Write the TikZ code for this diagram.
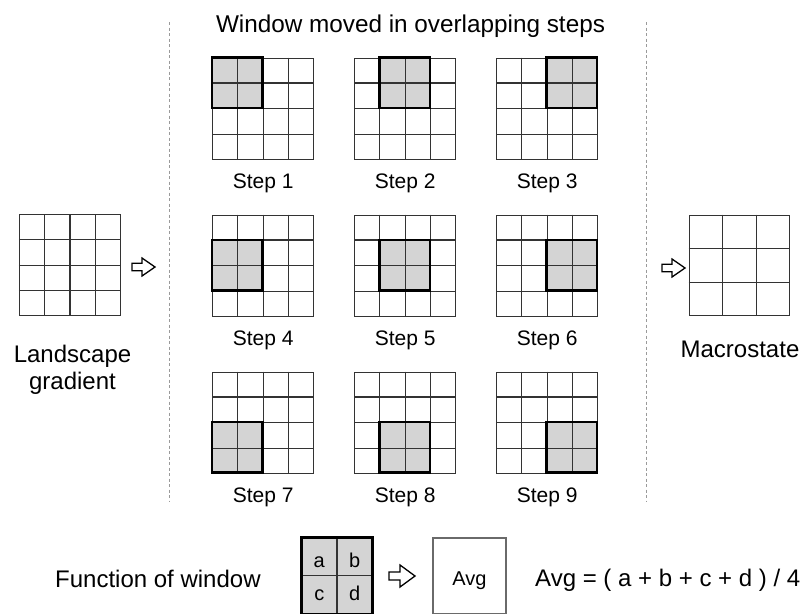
\documentclass[tikz,border=0pt]{standalone}
\usepackage{fontspec}
\setmainfont{Liberation Sans}
\usetikzlibrary{calc}
\definecolor{gridc}{HTML}{333333}
\definecolor{winc}{HTML}{D4D4D4}
\definecolor{dashc}{HTML}{9A9A9A}
\definecolor{boxc}{HTML}{6A6A6A}
\begin{document}
\begin{tikzpicture}[x=1pt,y=-1pt,
  gridline/.style={draw=gridc,line width=1.3pt},
  gridbox4/.style={rectangle,draw=gridc,line width=1.3pt,minimum width=101pt,minimum height=101pt,inner sep=0pt},
  gridbox3/.style={rectangle,draw=gridc,line width=1.3pt,minimum width=100.5pt,minimum height=100.5pt,inner sep=0pt},
  winborder/.style={draw=black,line width=2.4pt},
  lbl/.style={inner sep=0pt,anchor=base,font=\fontsize{24}{28}\selectfont},
  steplbl/.style={inner sep=0pt,anchor=base,font=\fontsize{21}{25}\selectfont},
  letter/.style={inner sep=0pt,anchor=base,font=\fontsize{20}{24}\selectfont},
  sep/.style={draw=dashc,line width=0.9pt,dash pattern=on 3pt off 2.5pt},
  arrowline/.style={draw=black,line width=1.3pt,fill=white,line join=miter},
  harrow/.pic={\draw[arrowline] (0,-3.7) -- (10,-3.7) -- (10,-9) -- (23,0) -- (10,9) -- (10,3.7) -- (0,3.7) -- cycle;},
  harrowbig/.pic={\draw[arrowline] (0,-4) -- (11,-4) -- (11,-11) -- (26,0) -- (11,11) -- (11,4) -- (0,4) -- cycle;}]
\clip (0,0) rectangle (800,613);
\fill[white] (0,0) rectangle (800,613);

% title and separators
\node[lbl,font=\fontsize{24.3}{28}\selectfont] (title) at (410.5,32) {Window moved in overlapping steps};
\coordinate (sepLt) at (169,22);
\coordinate (sepLb) at (169,502);
\coordinate (sepRt) at (646,22);
\coordinate (sepRb) at (646,502);
\draw[sep] (sepLt) -- (sepLb);
\draw[sep] (sepRt) -- (sepRb);

% landscape gradient
\node[gridbox4] (land) at (70,265.2) {};
\foreach \k in {1,2,3} {
  \draw[gridline] ($(land.north west)!\k/4!(land.north east)$) -- ($(land.south west)!\k/4!(land.south east)$);
  \draw[gridline] ($(land.north west)!\k/4!(land.south west)$) -- ($(land.north east)!\k/4!(land.south east)$);
}
\node[lbl] (landA) at (72.5,362) {Landscape};
\node[lbl] (landB) at (72.5,389) {gradient};
\pic at (132,267) {harrow};

% steps
\foreach \n/\c/\r in {1/0/0,2/1/0,3/2/0,4/0/1,5/1/1,6/2/1,7/0/2,8/1/2,9/2/2} {
  \node[gridbox4] (g\n) at ({263.2+142*\c},{108.7+157*\r}) {};
  \fill[winc] ($(g\n.north west)+(\c*25.25,\r*25.25)$) rectangle ++(50.5,50.5);
  \foreach \k in {1,2,3} {
    \draw[gridline] ($(g\n.north west)!\k/4!(g\n.north east)$) -- ($(g\n.south west)!\k/4!(g\n.south east)$);
    \draw[gridline] ($(g\n.north west)!\k/4!(g\n.south west)$) -- ($(g\n.north east)!\k/4!(g\n.south east)$);
  }
  \draw[winborder] ($(g\n.north west)+(\c*25.25,\r*25.25)$) rectangle ++(50.5,50.5);
  \node[steplbl] (t\n) at ($(g\n.south)+(0,29)$) {Step \n};
}

% macrostate
\pic at (662,268) {harrow};
\node[gridbox3] (macro) at (739.5,265.5) {};
\foreach \k in {1,2} {
  \draw[gridline] ($(macro.north west)!\k/3!(macro.north east)$) -- ($(macro.south west)!\k/3!(macro.south east)$);
  \draw[gridline] ($(macro.north west)!\k/3!(macro.south west)$) -- ($(macro.north east)!\k/3!(macro.south east)$);
}
\node[lbl] (macroT) at (740,357) {Macrostate};

% function of window
\node[lbl,anchor=base west] (func) at (55,587) {Function of window};
\node[rectangle,fill=winc,minimum width=70.6pt,minimum height=76pt,inner sep=0pt] (win) at (337,575.7) {};
\draw[gridline] (win.north) -- (win.south);
\draw[gridline] (win.west) -- (win.east);
\draw[winborder] (win.north west) rectangle (win.south east);
\node[letter] (la) at (319.3,567) {a};
\node[letter] (lb) at (354.6,567) {b};
\node[letter] (lc) at (319.3,600) {c};
\node[letter] (ld) at (354.6,600) {d};
\pic at (389,576) {harrowbig};
\node[rectangle,draw=boxc,line width=1.5pt,minimum width=73pt,minimum height=76pt,inner sep=0pt] (avg) at (469.5,576) {};
\node[inner sep=0pt,anchor=base,font=\fontsize{20}{24}\selectfont] (avgT) at (avg.center |- 0,585) {Avg};
\node[inner sep=0pt,anchor=base west,font=\fontsize{24}{28}\selectfont] (formula) at (535,586) {Avg = ( a + b + c + d ) / 4};
\end{tikzpicture}
\end{document}
